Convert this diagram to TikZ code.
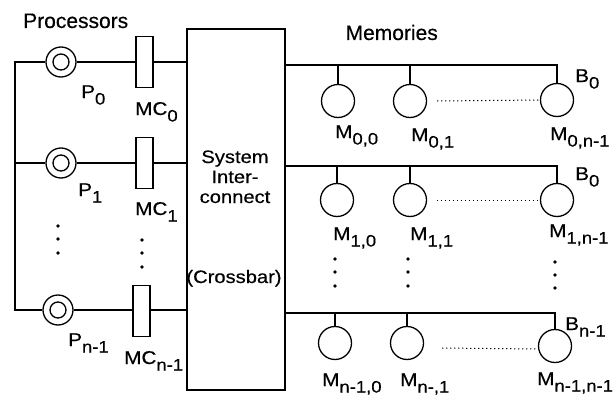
\documentclass[tikz,border=0pt]{standalone}
\usepackage{fontspec}
\usetikzlibrary{calc}
\setmainfont{Liberation Sans}[FakeBold=0.4]
\newfontfamily\wide{Liberation Sans}[FakeStretch=1.12,FakeBold=0.4]
\newcommand\sbs[1]{\raisebox{-6.5pt}{\fontsize{16.5}{16.5}\selectfont #1}}
\begin{document}
\begin{tikzpicture}[x=1pt,y=-1pt,
  wire/.style={line width=1.3pt},
  proc/.style={circle,draw,line width=1.3pt,minimum size=30pt,inner sep=0pt},
  procin/.style={circle,draw,line width=1.3pt,minimum size=16pt,inner sep=0pt},
  mcbox/.style={rectangle,draw,line width=1.3pt,minimum width=17pt,minimum height=51pt,inner sep=0pt},
  mem/.style={circle,draw,line width=1.3pt,minimum size=33pt,inner sep=0pt},
  lbl/.style={anchor=base west,inner sep=0pt,font=\wide\fontsize{18.5}{18.5}\selectfont},
  head/.style={anchor=base west,inner sep=0pt,font=\fontsize{21}{21}\selectfont},
  ctext/.style={anchor=base,inner sep=0pt,font=\wide\fontsize{18}{18}\selectfont},
  dotline/.style={line width=1pt,dash pattern=on 1.2pt off 2.8pt},
  vdot/.style={circle,fill,inner sep=0pt,minimum size=3.8pt}
]
\useasboundingbox (0,0) rectangle (613,396);

% crossbar
\node[draw,line width=1.3pt,minimum width=98pt,minimum height=361pt,inner sep=0pt] (xbar) at (236,209.5) {};
\node[ctext] (t1) at (235,163) {System};
\node[ctext] (t2) at (235,183) {Inter-};
\node[ctext] (t3) at (235,203) {connect};
\node[ctext] (t4) at (234,283) {(Crossbar)};

% processors
\node[proc] (P0) at (61,62) {};
\node[procin] (P0i) at (61,62) {};
\node[proc] (P1) at (61,163) {};
\node[procin] (P1i) at (61,163) {};
\node[proc] (Pn) at (58,310) {};
\node[procin] (Pni) at (58,310) {};

\node[mcbox] (MC0) at (144.5,62) {};
\node[mcbox] (MC1) at (144.5,163) {};
\node[mcbox] (MCn) at (141.5,311) {};

\coordinate (L0) at (15,62);
\coordinate (L1) at (15,163);
\coordinate (Ln) at (15,310);
\draw[wire] (P0.west) -- (L0) -- (Ln) -- (Pn.west);
\draw[wire] (P1.west) -- (L1);
\draw[wire] (P0.east) -- (MC0.west);
\draw[wire] (P1.east) -- (MC1.west);
\draw[wire] (Pn.east) -- (MCn.west |- Pn.east);
\draw[wire] (MC0.east) -- (MC0.east -| xbar.west);
\draw[wire] (MC1.east) -- (MC1.east -| xbar.west);
\draw[wire] (MCn.east |- Pn.east) -- (Pn.east -| xbar.west);

% processor dots
\foreach \y [count=\i] in {226,239,253} \node[vdot] (pd\i) at (58,\y) {};
\foreach \y [count=\i] in {240,253,267} \node[vdot] (md\i) at (142,\y) {};

% processor labels
\node[head] (procs) at (23,28) {Processors};
\node[lbl] (lP0) at (81,98) {P\sbs{0}};
\node[lbl] (lMC0) at (135,115) {MC\sbs{0}};
\node[lbl] (lP1) at (78,196) {P\sbs{1}};
\node[lbl] (lMC1) at (135,215) {MC\sbs{1}};
\node[lbl] (lPn) at (68,346) {P\sbs{n-1}};
\node[lbl] (lMCn) at (124,364) {MC\sbs{n-1}};

% memories
\node[head,anchor=base east] (mems) at (438,40) {Memories};

\node[mem] (M00) at (338,101) {};
\node[mem] (M01) at (410,101) {};
\node[mem] (M0n) at (557,100) {};
\node[mem] (M10) at (337,200) {};
\node[mem] (M11) at (410,200) {};
\node[mem] (M1n) at (557,200) {};
\node[mem] (Mn0) at (335,343) {};
\node[mem] (Mn1) at (407,343) {};
\node[mem] (Mnn) at (555,346) {};

% buses
\coordinate (B0s) at (285,65);
\coordinate (B1s) at (285,166);
\coordinate (Bns) at (285,313);
\draw[wire] (B0s) -- (M0n.north |- B0s) -- (M0n.north);
\draw[wire] (M00.north |- B0s) -- (M00.north);
\draw[wire] (M01.north |- B0s) -- (M01.north);
\draw[wire] (B1s) -- (M1n.north |- B1s) -- (M1n.north);
\draw[wire] (M10.north |- B1s) -- (M10.north);
\draw[wire] (M11.north |- B1s) -- (M11.north);
\draw[wire] (Bns) -- (Mnn.north |- Bns) -- (Mnn.north);
\draw[wire] (Mn0.north |- Bns) -- (Mn0.north);
\draw[wire] (Mn1.north |- Bns) -- (Mn1.north);

% dotted rows
\draw[dotline] ($(M01.east)+(10,0)$) -- (M0n.west);
\draw[dotline] ($(M11.east)+(10,0)$) -- (M1n.west);
\draw[dotline] ($(Mn1.east)+(18,5)$) -- ($(Mnn.west)+(-1,3)$);

% memory vertical dots
\foreach \y [count=\i] in {259,272,286} \node[vdot] (ca\i) at (335,\y) {};
\foreach \y [count=\i] in {259,272,286} \node[vdot] (cb\i) at (408,\y) {};
\foreach \y [count=\i] in {262,275,288} \node[vdot] (cc\i) at (555,\y) {};

% memory labels
\node[lbl] (lM00) at (335,138) {M\sbs{0,0}};
\node[lbl] (lM01) at (411,141) {M\sbs{0,1}};
\node[lbl] (lM0n) at (550,140) {M\sbs{0,n-1}};
\node[lbl] (lM10) at (333,240) {M\sbs{1,0}};
\node[lbl] (lM11) at (410,240) {M\sbs{1,1}};
\node[lbl] (lM1n) at (549,237) {M\sbs{1,n-1}};
\node[lbl] (lMn0) at (322,386) {M\sbs{n-1,0}};
\node[lbl] (lMn1) at (400,386) {M\sbs{n-,1}};
\node[lbl] (lMnn) at (537,385) {M\sbs{n-1,n-1}};

\node[lbl] (lB0) at (575,82) {B\sbs{0}};
\node[lbl] (lB1) at (575,180) {B\sbs{0}};
\node[lbl] (lBn) at (565,330) {B\sbs{n-1}};
\end{tikzpicture}
\end{document}
